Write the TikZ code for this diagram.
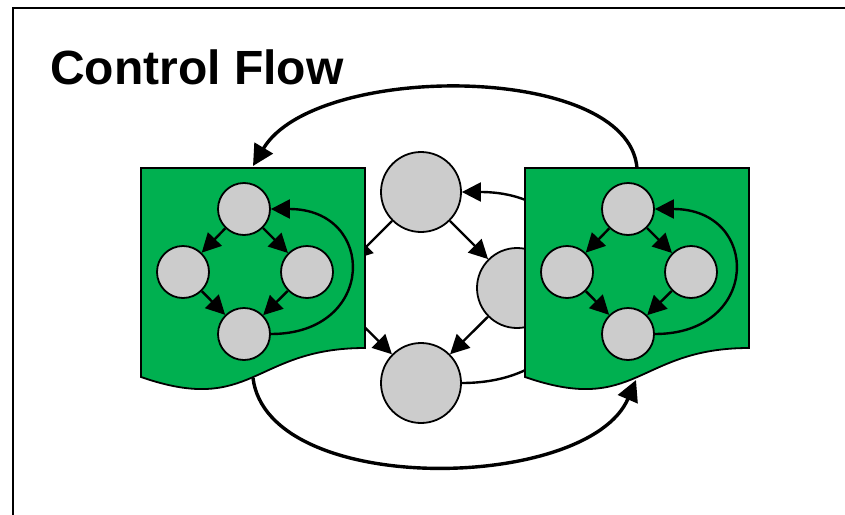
\documentclass[tikz,border=0pt]{standalone}
\usepackage{fontspec}
\setmainfont{Liberation Sans}
\usetikzlibrary{arrows.meta}
\definecolor{docgreen}{HTML}{00B050}
\definecolor{nodegray}{HTML}{CCCCCC}
\tikzset{
  smallnode/.style={circle, draw=black, fill=nodegray, line width=1.8pt, minimum size=52pt, inner sep=0pt},
  bignode/.style={circle, draw=black, fill=nodegray, line width=1.8pt, minimum size=80pt, inner sep=0pt},
  hiddennode/.style={circle, minimum size=80pt, inner sep=0pt},
  edgearrow/.style={line width=2.4pt, -{Triangle[length=19pt,width=19pt]}},
  bigarrow/.style={line width=3.4pt, -{Triangle[length=21pt,width=21pt]}},
  docshape/.style={fill=docgreen, draw=black, line width=1.8pt, line join=miter},
  pics/docgraph/.style={code={
    \path[docshape] (0,0) -- (224,0) -- (224,180) .. controls (112,180) and (112,248) .. (0,209) -- cycle;
    \node[smallnode] (-t) at (103,41) {};
    \node[smallnode] (-l) at (42,104) {};
    \node[smallnode] (-r) at (166,104) {};
    \node[smallnode] (-b) at (103,166) {};
    \draw[edgearrow] (-t) -- (-l);
    \draw[edgearrow] (-t) -- (-r);
    \draw[edgearrow] (-l) -- (-b);
    \draw[edgearrow] (-r) -- (-b);
    \draw[edgearrow] (-b.east) .. controls (236,166) and (236,41) .. (-t.east);
  }}
}
\begin{document}
\begin{tikzpicture}[x=1pt,y=-1pt]
\useasboundingbox (0,0) rectangle (845,514);
\clip (0,0) rectangle (845,514);
\fill[white] (0,0) rectangle (845,514);
% frame
\draw[line width=2.6pt] (13,8) rectangle (900,600);
% title
\node[anchor=base west, inner sep=0pt, font=\fontsize{48}{56}\selectfont\bfseries] (title) at (50,84) {Control Flow};
% middle graph
\node[bignode] (mt) at (421,192) {};
\node[bignode] (mr) at (517,288) {};
\node[bignode] (mb) at (421,383) {};
\node[hiddennode] (ml) at (325,288) {};
\draw[edgearrow] (mt) -- (ml);
\draw[edgearrow] (mt) -- (mr);
\draw[edgearrow] (ml) -- (mb);
\draw[edgearrow] (mr) -- (mb);
\draw[edgearrow] (mb.east) .. controls (620,383) and (620,192) .. (mt.east);
% documents with inner graphs
\pic (L) at (141,168) {docgraph};
\pic (R) at (525,168) {docgraph};
% outer arrows
\coordinate (Rtop) at (637,168);
\coordinate (Ltop) at (253,166);
\coordinate (Lbot) at (253,378);
\coordinate (Rbot) at (636,380);
\draw[bigarrow] (Rtop) .. controls (628,62) and (315,62) .. (Ltop);
\draw[bigarrow] (Lbot) .. controls (268,498) and (588,492) .. (Rbot);
\end{tikzpicture}
\end{document}
